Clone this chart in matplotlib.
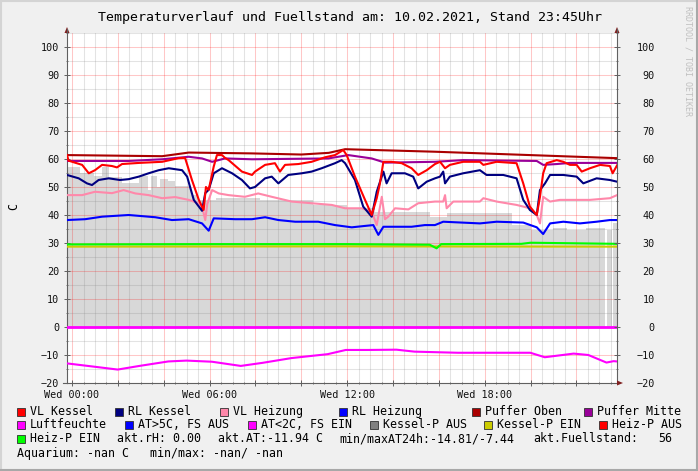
import numpy as np
import matplotlib
matplotlib.use("Agg")
import matplotlib.pyplot as plt
from matplotlib.ticker import MultipleLocator, FuncFormatter
from matplotlib.patches import Rectangle, Polygon
from matplotlib.lines import Line2D

plt.rcParams["font.family"] = ["DejaVu Sans Mono", "DejaVu Sans"]

W, H = 698, 471

# --- data (hours since midnight, degrees C) ---
vl_kessel_t = [-0.22, -0.15, 0.44, 0.73, 1.0, 1.31, 1.74, 1.96, 2.18, 2.92, 3.93, 4.65, 4.93,
               5.23, 5.53, 5.74, 5.84, 5.96, 6.18, 6.32, 6.54, 6.67, 6.83, 7.41, 7.85, 7.98,
               8.42, 8.85, 9.07, 9.29, 9.87, 10.45, 11.03, 11.47, 11.83, 11.98, 12.34, 12.78,
               13.07, 13.29, 13.43, 13.58, 13.94, 14.38, 14.81, 15.10, 15.47, 15.83, 16.05,
               16.27, 16.48, 17.06, 17.79, 17.94, 18.52, 19.39, 19.68, 19.97, 20.27, 20.41,
               20.55, 20.70, 21.14, 21.43, 21.72, 22.01, 22.23, 22.59, 23.03, 23.46, 23.58, 23.77]
vl_kessel = [61.4, 59.4, 57.9, 54.9, 56.0, 57.9, 57.5, 57.0, 58.2, 58.6, 59.0, 60.3, 60.4,
             52.5, 45.4, 41.8, 50.0, 49.0, 57.3, 61.4, 61.4, 60.4, 59.6, 55.5, 54.3, 55.5,
             57.9, 58.5, 55.5, 57.9, 58.2, 59.0, 60.6, 61.4, 63.2, 61.4, 53.7, 45.4,
             40.0, 46.0, 51.3, 59.0, 59.0, 58.5, 56.7, 54.3, 56.0, 58.2, 59.0,
             56.7, 57.9, 59.0, 59.0, 57.9, 59.0, 58.5, 51.3, 43.0, 40.0, 46.5,
             54.9, 58.5, 59.6, 59.0, 57.9, 57.9, 55.5, 56.7, 57.9, 57.5, 54.9, 57.7]

rl_kessel_t = [-0.22, 0.29, 0.65, 0.87, 1.16, 1.60, 2.09, 2.47, 2.91, 3.34, 3.78, 4.22, 4.80,
               5.02, 5.31, 5.67, 5.81, 5.96, 6.18, 6.54, 6.98, 7.41, 7.76, 7.98, 8.42, 8.71,
               9.0, 9.43, 10.02, 10.45, 10.89, 11.47, 11.76, 11.91, 12.34, 12.70, 13.07, 13.29,
               13.58, 13.72, 13.94, 14.52, 14.88, 15.10, 15.47, 15.83, 16.05, 16.19, 16.27,
               16.48, 17.06, 17.79, 18.08, 18.81, 19.39, 19.68, 19.97, 20.27, 20.41, 20.63,
               20.85, 21.43, 22.01, 22.30, 22.88, 23.46, 23.77]
rl_kessel = [54.3, 53.1, 51.3, 50.7, 52.5, 53.1, 52.5, 52.8, 53.7, 54.9, 56.0, 56.7, 56.0,
             53.7, 45.4, 41.5, 47.8, 49.0, 54.9, 56.7, 54.9, 52.5, 49.5, 50.0, 53.1, 53.7,
             51.3, 54.3, 54.9, 55.5, 56.7, 58.5, 59.6, 58.5, 52.5, 43.0, 39.4, 48.3,
             55.5, 51.3, 54.9, 54.9, 53.7, 49.5, 51.9, 53.1, 53.7, 55.5, 51.3,
             53.7, 54.9, 56.0, 54.3, 54.3, 53.1, 45.4, 41.8, 40.0, 48.9, 51.3,
             54.3, 54.3, 53.7, 51.3, 53.1, 52.5, 51.9]

vl_heizung_t = [-0.22, 0.44, 1.0, 1.74, 2.25, 2.76, 3.34, 3.93, 4.50, 5.09, 5.53, 5.70, 5.81,
                5.90, 6.11, 6.40, 6.83, 7.54, 8.12, 8.71, 9.58, 10.45, 11.33, 11.91, 12.63,
                13.07, 13.29, 13.51, 13.65, 13.79, 14.09, 14.67, 15.10, 15.83, 16.19, 16.27,
                16.34, 16.63, 17.79, 17.94, 18.52, 19.39, 19.97, 20.27, 20.41, 20.55, 20.85,
                21.28, 22.59, 23.46, 23.77]
vl_heizung = [47.1, 47.1, 48.3, 47.8, 48.9, 47.7, 47.1, 46.0, 46.4, 45.4, 44.2, 42.0, 38.2,
              44.0, 48.9, 47.7, 47.1, 46.5, 47.7, 46.5, 44.8, 44.2, 43.6, 42.4, 42.4,
              41.2, 36.4, 46.5, 38.5, 39.4, 42.4, 42.0, 44.2, 44.8, 44.8, 47.1,
              42.4, 44.8, 44.8, 46.0, 44.8, 43.6, 42.4, 40.0, 37.0, 46.5, 44.8,
              45.4, 45.4, 46.0, 47.1]

rl_heizung_t = [-0.22, 0.57, 1.31, 2.47, 3.63, 4.36, 5.09, 5.67, 5.96, 6.18, 7.12, 7.85, 8.42,
                9.0, 9.73, 10.74, 11.47, 12.20, 12.78, 13.14, 13.36, 13.58, 14.09, 14.81,
                15.39, 15.83, 16.19, 17.79, 18.52, 19.68, 20.27, 20.55, 20.85, 21.43, 22.15,
                22.88, 23.46, 23.77]
rl_heizung = [38.2, 38.5, 39.4, 40.0, 39.2, 38.2, 38.5, 37.0, 34.4, 38.8, 38.5, 38.5, 39.2,
              38.2, 37.6, 37.6, 36.4, 35.6, 36.1, 36.4, 32.9, 35.8, 35.8, 35.8,
              36.4, 36.4, 37.6, 37.0, 37.6, 37.3, 35.6, 33.2, 37.0, 37.6, 37.0,
              37.6, 38.2, 38.2]

puffer_oben_t = [-0.22, 3.93, 5.09, 7.85, 10.0, 11.2, 11.91, 15.83, 23.77]
puffer_oben = [61.4, 61.0, 62.3, 62.0, 61.6, 62.2, 63.5, 62.6, 60.3]

puffer_mitte_t = [-0.22, 2.47, 3.93, 5.09, 5.67, 6.11, 6.67, 7.85, 11.18, 12.05, 13.07, 13.65,
                  15.83, 17.06, 20.27, 20.55, 21.14, 21.72, 23.77]
puffer_mitte = [59.3, 59.3, 59.9, 60.8, 60.2, 59.0, 60.2, 59.9, 60.2, 61.4, 60.2, 58.7,
                59.0, 59.6, 59.3, 57.9, 58.2, 58.6, 58.6]

heiz_p_ein_t = [-0.22, 6.0, 12.0, 15.6, 15.9, 16.1, 19.6, 20.0, 23.77]
heiz_p_ein = [29.5, 29.6, 29.6, 29.4, 28.1, 29.6, 29.7, 30.1, 29.7]

kessel_p_ein_t = [-0.22, 12.0, 23.77]
kessel_p_ein = [28.7, 28.8, 28.7]

luftfeuchte_t = [-0.22, 23.77]
luftfeuchte = [0.0, 0.0]

at_t = [-0.22, 0.89, 1.99, 2.94, 4.20, 4.99, 6.10, 7.36, 8.31, 9.57, 11.15, 11.94, 12.89,
        14.15, 14.94, 16.83, 19.99, 20.62, 21.88, 22.52, 23.31, 23.62, 23.77]
at = [-13.0, -14.1, -15.2, -13.9, -12.3, -12.0, -12.4, -13.9, -12.8, -11.1, -9.7, -8.2, -8.2,
      -8.1, -8.8, -9.2, -9.2, -10.8, -9.5, -10.0, -12.7, -12.2, -12.3]

# stepwise grey area (value holds until next time stamp, 0 = gap)
kessel_p_aus_t = [-0.22, 0.35, 0.95, 1.3, 1.6, 2.2, 2.5, 2.9, 3.3, 3.45, 3.7, 3.85, 4.2,
                  4.5, 5.0, 5.2, 5.5, 6.3, 8.2, 10.5, 12.0, 13.2, 15.6, 16.35, 19.2, 20.0,
                  21.0, 21.6, 22.4, 23.25, 23.32, 23.55, 23.6, 23.77]
kessel_p_aus = [57, 55, 54, 57, 53.5, 51.5, 51.5, 54, 49, 54, 50, 53, 52,
                50.5, 50.5, 47, 45.5, 46, 45.4, 43.6, 42.4, 41.2, 39.4, 40.6, 36.4, 34.6,
                35.5, 34.6, 35.5, 0, 34.6, 0, 37, 37]

legend_rows = [
    [("VL Kessel", "#FF0000"), ("RL Kessel", "#000080"), ("VL Heizung", "#FF88AA"),
     ("RL Heizung", "#0000FF"), ("Puffer Oben", "#AA0000"), ("Puffer Mitte", "#990099")],
    [("Luftfeuchte", "#FF00FF"), ("AT>5C, FS AUS", "#0000FF"), ("AT<2C, FS EIN", "#FF00FF"),
     ("Kessel-P AUS", "#808080"), ("Kessel-P EIN", "#CCCC00"), ("Heiz-P AUS", "#FF0000")],
]
legend_box_x = [[17, 115, 220, 339, 472, 584], [17, 125, 248, 370, 484, 599]]
info_texts = ["akt.rH: 0.00", "akt.AT:-11.94 C", "min/maxAT24h:-14.81/-7.44",
              "akt.Fuellstand:", "56"]
info_x = [117, 218, 339.5, 533, 658]
aquarium_text = "Aquarium: -nan C   min/max: -nan/ -nan"

title = "Temperaturverlauf und Fuellstand am: 10.02.2021, Stand 23:45Uhr"

# --- figure ---
fig = plt.figure(figsize=(W / 100, H / 100), dpi=100, facecolor="#F0F0F0")
ax = fig.add_axes([67 / W, 1 - 383 / H, 550 / W, 350 / H])
ax.set_facecolor("white")
ax.set_xlim(-0.22, 23.77)
ax.set_ylim(-20, 105)

ax.fill_between(kessel_p_aus_t, 0, kessel_p_aus, step="post", color="#D8D8D8", lw=0,
                zorder=1)

lw = 1.5
ax.plot(kessel_p_ein_t, kessel_p_ein, color="#CCCC00", lw=lw, zorder=3)
ax.plot(heiz_p_ein_t, heiz_p_ein, color="#00FF00", lw=lw, zorder=3)
ax.plot(luftfeuchte_t, luftfeuchte, color="#FF00FF", lw=2, zorder=3)
ax.plot(at_t, at, color="#FF00FF", lw=lw, zorder=3)
ax.plot(rl_heizung_t, rl_heizung, color="#0000FF", lw=lw, zorder=3)
ax.plot(vl_heizung_t, vl_heizung, color="#FF88AA", lw=lw, zorder=3)
ax.plot(puffer_oben_t, puffer_oben, color="#AA0000", lw=lw, zorder=3)
ax.plot(puffer_mitte_t, puffer_mitte, color="#990099", lw=lw, zorder=3)
ax.plot(rl_kessel_t, rl_kessel, color="#000080", lw=lw, zorder=3)
ax.plot(vl_kessel_t, vl_kessel, color="#FF0000", lw=lw, zorder=3)

# ticks
axis_col = "#606060"
ax.xaxis.set_major_locator(MultipleLocator(2))
ax.xaxis.set_minor_locator(MultipleLocator(0.5))
ax.xaxis.set_major_formatter(FuncFormatter(
    lambda v, p: "Wed %02d:00" % int(round(v)) if int(round(v)) % 6 == 0 else ""))
ax.set_yticks(np.arange(-20, 101, 10))
ax.yaxis.set_minor_locator(MultipleLocator(5))
ax.spines["top"].set_visible(False)
for s in ["left", "right", "bottom"]:
    ax.spines[s].set_color(axis_col)
    ax.spines[s].set_linewidth(0.8)
ax.tick_params(axis="both", which="major", direction="inout", length=4, width=0.7,
               color=axis_col, labelsize=7.3, labelcolor="#111111")
ax.tick_params(axis="both", which="minor", direction="inout", length=2, width=0.6,
               color=axis_col)
ax.tick_params(axis="y", pad=3.5)
ax.tick_params(axis="x", pad=3.0)

# grid on top of the area, below the lines
ax.set_axisbelow(False)
ax.grid(which="major", color="#FF0000", alpha=0.22, lw=0.75)
ax.grid(which="minor", color="#808080", alpha=0.22, lw=0.75)

ax2 = ax.twinx()
ax2.set_ylim(ax.get_ylim())
ax2.set_yticks(np.arange(-20, 101, 10))
ax2.yaxis.set_minor_locator(MultipleLocator(5))
for s in ax2.spines.values():
    s.set_visible(False)
ax2.tick_params(axis="y", which="major", direction="inout", length=4, width=0.7,
                color=axis_col, labelsize=7.3, labelcolor="#111111", pad=25.3)
ax2.tick_params(axis="y", which="minor", direction="inout", length=2, width=0.6,
                color=axis_col)
plt.setp(ax2.get_yticklabels(), ha="right")


def fx(px):
    return px / W


def fy(py):
    return 1 - py / H


# axis extensions and arrows
arrow_col = "#802020"
fig.add_artist(Line2D([fx(67), fx(67)], [fy(33), fy(29)], color=axis_col, lw=0.8))
fig.add_artist(Line2D([fx(617), fx(617)], [fy(33), fy(29)], color=axis_col, lw=0.8))
fig.add_artist(Line2D([fx(63), fx(67)], [fy(383), fy(383)], color=axis_col, lw=0.8))
for tip, base in [((67, 27), ((64.5, 33), (69.5, 33))), ((617, 27), ((614.5, 33), (619.5, 33)))]:
    fig.add_artist(Polygon([(fx(tip[0]), fy(tip[1])), (fx(base[0][0]), fy(base[0][1])),
                            (fx(base[1][0]), fy(base[1][1]))], closed=True,
                           transform=fig.transFigure, color=arrow_col, lw=0))
fig.add_artist(Polygon([(fx(623), fy(383)), (fx(617), fy(380.5)), (fx(617), fy(385.5))],
                       closed=True, transform=fig.transFigure, color=arrow_col, lw=0))

# title, y label, watermark
fig.text(fx(350), fy(17), title, ha="center", va="center", fontsize=9.5, color="#000000")
fig.text(fx(14), fy(207), "C", rotation=90, ha="center", va="center", fontsize=8.4)
fig.text(fx(688), fy(61), "RRDTOOL / TOBI OETIKER", rotation=270, ha="center",
         va="center", fontsize=6.0, color="#C0C0C0")

# legend
row_y = [411.7, 425, 439, 453]
for r, row in enumerate(legend_rows):
    for (label, col), bx in zip(row, legend_box_x[r]):
        fig.add_artist(Rectangle((fx(bx), fy(row_y[r] + 4)), 8 / W, 8 / H,
                                 transform=fig.transFigure, facecolor=col,
                                 edgecolor="#303030", lw=0.6))
        fig.text(fx(bx + 13), fy(row_y[r]), label, ha="left", va="center", fontsize=8.4)
fig.add_artist(Rectangle((fx(17), fy(row_y[2] + 4)), 8 / W, 8 / H, transform=fig.transFigure,
                         facecolor="#00FF00", edgecolor="#303030", lw=0.6))
fig.text(fx(30), fy(row_y[2]), "Heiz-P EIN", ha="left", va="center", fontsize=8.4)
for s, x in zip(info_texts, info_x):
    fig.text(fx(x), fy(row_y[2]), s, ha="left", va="center", fontsize=8.4)
fig.text(fx(17), fy(row_y[3]), aquarium_text, ha="left", va="center", fontsize=8.4)

# outer frame
fig.add_artist(Line2D([0, 1], [1 - 1 / H, 1 - 1 / H], color="#D4D4D4", lw=1.5))
fig.add_artist(Line2D([1 / W, 1 / W], [0, 1], color="#D4D4D4", lw=1.5))
fig.add_artist(Line2D([0, 1], [1 / H, 1 / H], color="#A8A8A8", lw=1.5))
fig.add_artist(Line2D([1 - 1 / W, 1 - 1 / W], [0, 1], color="#A8A8A8", lw=1.5))

fig.savefig("out.png", dpi=100, facecolor=fig.get_facecolor())
